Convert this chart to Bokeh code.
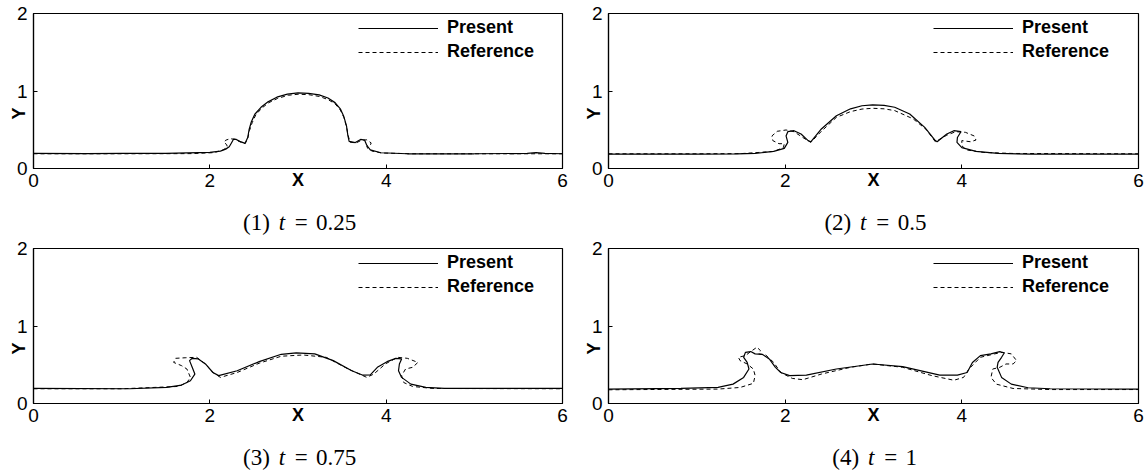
import math
from bokeh.plotting import figure
from bokeh.models import Range1d, FixedTicker
from bokeh.core.properties import value
from bokeh.layouts import column, row
from bokeh.embed import file_html
from bokeh.resources import INLINE

# ---------------- data ----------------
p1_present_x = [0.0, 0.6, 1.0, 1.5, 2.0, 2.12, 2.18, 2.22, 2.245, 2.27, 2.30, 2.34, 2.40, 2.43, 2.445, 2.47, 2.51, 2.58, 2.66, 2.76, 2.88, 3.0, 3.12, 3.24, 3.34, 3.42, 3.48, 3.52, 3.55, 3.565, 3.58, 3.65, 3.71, 3.756, 3.78, 3.82, 3.94, 4.24, 5.0, 5.6, 5.7, 5.8, 6.0]
p1_present_y = [0.195, 0.193, 0.195, 0.196, 0.207, 0.225, 0.25, 0.28, 0.33, 0.38, 0.375, 0.35, 0.325, 0.40, 0.50, 0.60, 0.70, 0.79, 0.86, 0.92, 0.96, 0.975, 0.97, 0.95, 0.91, 0.85, 0.77, 0.67, 0.55, 0.43, 0.35, 0.335, 0.375, 0.365, 0.30, 0.24, 0.203, 0.19, 0.19, 0.195, 0.205, 0.195, 0.19]
p1_reference_x = [0.0, 1.0, 1.8, 2.05, 2.15, 2.20, 2.19, 2.16, 2.18, 2.23, 2.29, 2.34, 2.40, 2.43, 2.45, 2.48, 2.52, 2.59, 2.67, 2.77, 2.89, 3.0, 3.12, 3.24, 3.34, 3.42, 3.48, 3.52, 3.55, 3.57, 3.59, 3.66, 3.72, 3.78, 3.83, 3.82, 3.78, 3.79, 3.84, 3.95, 4.3, 6.0]
p1_reference_y = [0.19, 0.19, 0.192, 0.205, 0.24, 0.275, 0.31, 0.335, 0.365, 0.385, 0.375, 0.345, 0.32, 0.39, 0.49, 0.59, 0.69, 0.78, 0.85, 0.905, 0.945, 0.958, 0.953, 0.93, 0.89, 0.835, 0.755, 0.66, 0.54, 0.42, 0.34, 0.33, 0.365, 0.37, 0.33, 0.30, 0.29, 0.26, 0.225, 0.20, 0.19, 0.19]

p2_present_x = [0.0, 1.0, 1.45, 1.66, 1.87, 1.99, 2.03, 2.01, 2.03, 2.10, 2.18, 2.26, 2.29, 2.41, 2.58, 2.74, 2.87, 2.99, 3.12, 3.24, 3.41, 3.58, 3.70, 3.72, 3.83, 3.91, 3.99, 3.95, 3.945, 4.0, 4.16, 4.41, 4.79, 6.0]
p2_present_y = [0.186, 0.186, 0.188, 0.194, 0.22, 0.26, 0.337, 0.42, 0.475, 0.488, 0.445, 0.36, 0.345, 0.51, 0.68, 0.77, 0.81, 0.82, 0.815, 0.79, 0.704, 0.53, 0.36, 0.345, 0.445, 0.488, 0.475, 0.40, 0.337, 0.27, 0.22, 0.194, 0.186, 0.186]
p2_reference_x = [0.0, 1.0, 1.5, 1.87, 1.98, 1.99, 1.93, 1.86, 1.85, 1.91, 2.01, 2.10, 2.20, 2.29, 2.41, 2.58, 2.74, 2.87, 2.99, 3.12, 3.24, 3.45, 3.60, 3.70, 3.83, 3.93, 4.04, 4.14, 4.16, 4.10, 4.0, 4.0, 4.05, 4.25, 4.58, 6.0]
p2_reference_y = [0.19, 0.19, 0.192, 0.22, 0.27, 0.32, 0.32, 0.36, 0.42, 0.48, 0.497, 0.475, 0.40, 0.337, 0.48, 0.66, 0.734, 0.767, 0.777, 0.77, 0.747, 0.64, 0.50, 0.345, 0.43, 0.475, 0.467, 0.42, 0.367, 0.345, 0.36, 0.294, 0.24, 0.207, 0.194, 0.19]

p3_present_x = [0.0, 1.09, 1.51, 1.68, 1.78, 1.83, 1.80, 1.77, 1.80, 1.87, 1.95, 2.035, 2.10, 2.31, 2.56, 2.81, 2.98, 3.19, 3.40, 3.61, 3.73, 3.82, 3.90, 4.01, 4.11, 4.175, 4.15, 4.14, 4.175, 4.28, 4.45, 4.66, 6.0]
p3_present_y = [0.194, 0.19, 0.207, 0.238, 0.294, 0.38, 0.467, 0.553, 0.583, 0.575, 0.51, 0.40, 0.36, 0.423, 0.54, 0.635, 0.652, 0.64, 0.553, 0.423, 0.367, 0.37, 0.467, 0.54, 0.583, 0.575, 0.51, 0.423, 0.337, 0.25, 0.207, 0.194, 0.194]
p3_reference_x = [0.0, 1.0, 1.64, 1.74, 1.78, 1.74, 1.68, 1.59, 1.61, 1.72, 1.85, 1.95, 2.035, 2.12, 2.31, 2.56, 2.81, 3.06, 3.32, 3.57, 3.78, 3.86, 3.99, 4.13, 4.24, 4.36, 4.30, 4.22, 4.175, 4.20, 4.30, 4.53, 6.0]
p3_reference_y = [0.19, 0.19, 0.22, 0.27, 0.337, 0.445, 0.488, 0.53, 0.583, 0.59, 0.596, 0.51, 0.40, 0.337, 0.40, 0.52, 0.61, 0.626, 0.596, 0.445, 0.337, 0.38, 0.51, 0.596, 0.583, 0.53, 0.467, 0.445, 0.36, 0.27, 0.22, 0.194, 0.19]

p4_present_x = [0.0, 0.82, 1.24, 1.41, 1.53, 1.59, 1.57, 1.53, 1.55, 1.61, 1.66, 1.74, 1.82, 1.89, 1.95, 2.05, 2.24, 2.58, 2.99, 3.33, 3.75, 3.95, 4.06, 4.12, 4.21, 4.33, 4.43, 4.48, 4.45, 4.41, 4.40, 4.45, 4.56, 4.75, 5.0, 6.0]
p4_present_y = [0.186, 0.194, 0.207, 0.25, 0.337, 0.445, 0.53, 0.596, 0.66, 0.67, 0.64, 0.635, 0.575, 0.467, 0.40, 0.36, 0.367, 0.445, 0.51, 0.475, 0.367, 0.367, 0.40, 0.53, 0.618, 0.64, 0.67, 0.652, 0.596, 0.53, 0.467, 0.337, 0.25, 0.203, 0.19, 0.186]
p4_reference_x = [0.0, 1.24, 1.49, 1.64, 1.66, 1.64, 1.57, 1.49, 1.47, 1.55, 1.61, 1.68, 1.72, 1.70, 1.78, 1.87, 1.95, 2.08, 2.20, 2.41, 2.74, 2.99, 3.33, 3.66, 3.91, 4.02, 4.08, 4.21, 4.37, 4.46, 4.56, 4.62, 4.58, 4.50, 4.43, 4.35, 4.33, 4.39, 4.58, 5.0, 6.0]
p4_reference_y = [0.177, 0.186, 0.207, 0.26, 0.36, 0.445, 0.51, 0.553, 0.596, 0.618, 0.67, 0.726, 0.683, 0.64, 0.626, 0.53, 0.40, 0.324, 0.307, 0.38, 0.467, 0.51, 0.467, 0.36, 0.30, 0.337, 0.445, 0.596, 0.64, 0.66, 0.64, 0.553, 0.51, 0.51, 0.467, 0.445, 0.337, 0.25, 0.194, 0.18, 0.18]

captions = ["(1)", "(2)", "(3)", "(4)"]
t_values = ["0.25", "0.5", "0.75", "1"]
x_ticks = [0, 2, 4, 6]
y_ticks = [0, 1, 2]
series_names = ["Present", "Reference"]
axis_titles = ["X", "Y"]

SANS = "Liberation Sans"
SERIF = "Liberation Serif"
NBSP = "\u00a0"


def blank(width, height):
    f = figure(width=width, height=height, output_backend="svg", toolbar_location=None,
               x_range=Range1d(0, width), y_range=Range1d(0, height),
               min_border=0, min_border_left=0, min_border_right=0,
               min_border_top=0, min_border_bottom=0)
    f.axis.visible = False
    f.grid.visible = False
    f.outline_line_color = None
    f.background_fill_color = "white"
    f.border_fill_color = "white"
    return f


def make_main(px, py, rx, ry, right_border, width):
    p = figure(width=width, height=195, output_backend="svg", toolbar_location=None,
               x_range=Range1d(0, 6), y_range=Range1d(0, 2),
               min_border_left=33, min_border_right=right_border,
               min_border_top=13, min_border_bottom=27)
    p.background_fill_color = "white"
    p.border_fill_color = "white"
    p.outline_line_color = "black"
    p.outline_line_width = 1.2
    p.xgrid.visible = False
    p.ygrid.visible = False
    for ax, ticks in ((p.xaxis, x_ticks), (p.yaxis, y_ticks)):
        ax.ticker = FixedTicker(ticks=ticks)
        ax.minor_tick_line_color = None
        ax.major_tick_in = 4
        ax.major_tick_out = 0
        ax.major_tick_line_color = "black"
        ax.axis_line_color = "black"
        ax.axis_line_width = 1.2
        ax.major_label_text_font = SANS
        ax.major_label_text_font_size = "19px"
        ax.major_label_text_color = "black"
        ax.axis_label_text_font = SANS
        ax.axis_label_text_font_style = "bold"
        ax.axis_label_text_font_size = "18px"
        ax.axis_label_text_color = "black"
    p.xaxis.major_label_standoff = 5
    p.yaxis.major_label_standoff = 6
    p.xaxis.axis_label = axis_titles[0]
    p.xaxis.axis_label_standoff = -20
    # trailing no-break spaces push the rotated "Y" below the frame's middle, as in the reference
    p.yaxis.axis_label = axis_titles[1] + NBSP * 9
    p.yaxis.axis_label_standoff = -15

    p.line(px, py, line_color="black", line_width=1.2, legend_label=series_names[0])
    p.line(rx, ry, line_color="black", line_width=1.0, line_dash="4 3", legend_label=series_names[1])

    lg = p.legend[0]
    lg.location = (325, 106)
    lg.border_line_color = None
    lg.background_fill_alpha = 0
    lg.padding = 0
    lg.margin = 0
    lg.spacing = 3
    lg.glyph_width = 80
    lg.glyph_height = 20
    lg.label_height = 20
    lg.label_standoff = 9
    lg.label_text_font = SANS
    lg.label_text_font_style = "bold"
    lg.label_text_font_size = "18px"
    lg.label_text_color = "black"
    return p


def make_caption(width, height, center, ycenter_from_bottom, cap, tval, shift):
    f = blank(width, height)
    c = center + shift
    y = ycenter_from_bottom
    kw = dict(text_font=value(SERIF), text_font_size="23px", text_baseline="middle", text_color="black")
    f.text(x=[c - 31], y=[y], text=[cap], text_align="right", **kw)
    f.text(x=[c - 18], y=[y], text=["t"], text_align="center", text_font_style="italic", **kw)
    f.text(x=[c + 3], y=[y], text=["="], text_align="center", **kw)
    f.text(x=[c + 19], y=[y], text=[tval], text_align="left", **kw)
    return f


def make_cell(px, py, rx, ry, cap, tval, left_cell, cap_height, cap_y, shift):
    if left_cell:
        cell_w, rb, cap_c = 575, 13, 288
    else:
        cell_w, rb, cap_c = 571, 8, 287
    main = make_main(px, py, rx, ry, rb, cell_w)
    capf = make_caption(cell_w, cap_height, cap_c, cap_y, cap, tval, shift)
    return column(main, capf, spacing=0)


c1 = make_cell(p1_present_x, p1_present_y, p1_reference_x, p1_reference_y, captions[0], t_values[0], True, 40, 13, 0)
c2 = make_cell(p2_present_x, p2_present_y, p2_reference_x, p2_reference_y, captions[1], t_values[1], False, 40, 13, 5.5)
c3 = make_cell(p3_present_x, p3_present_y, p3_reference_x, p3_reference_y, captions[2], t_values[2], True, 45, 18, 0)
c4 = make_cell(p4_present_x, p4_present_y, p4_reference_x, p4_reference_y, captions[3], t_values[3], False, 45, 18, 14)

layout = column(row(c1, c2, spacing=0), row(c3, c4, spacing=0), spacing=0)
open("out.html", "w").write(file_html(layout, INLINE))
